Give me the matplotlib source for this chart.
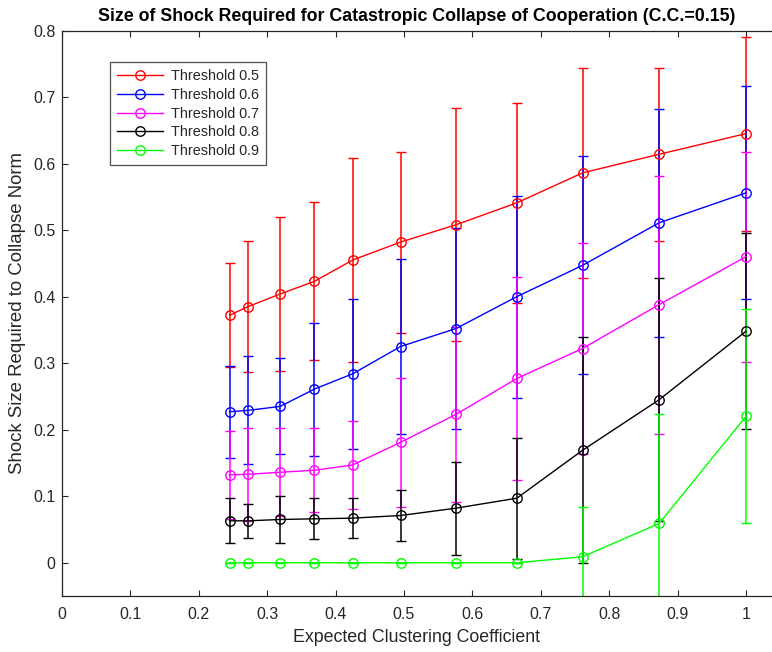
import matplotlib
matplotlib.use("Agg")
import matplotlib.pyplot as plt

# expected clustering coefficient (x positions shared by all series)
clustering = [0.245, 0.272, 0.319, 0.369, 0.425, 0.495, 0.576, 0.665, 0.761, 0.873, 1.0]

thresholds = ["0.5", "0.6", "0.7", "0.8", "0.9"]

shock_05 = [0.372, 0.385, 0.404, 0.423, 0.455, 0.482, 0.508, 0.541, 0.586, 0.614, 0.645]
shock_06 = [0.227, 0.229, 0.235, 0.261, 0.284, 0.325, 0.352, 0.400, 0.447, 0.511, 0.556]
shock_07 = [0.132, 0.133, 0.136, 0.139, 0.147, 0.181, 0.223, 0.277, 0.322, 0.388, 0.460]
shock_08 = [0.063, 0.063, 0.065, 0.066, 0.067, 0.071, 0.082, 0.097, 0.169, 0.245, 0.348]
shock_09 = [0.0, 0.0, 0.0, 0.0, 0.0, 0.0, 0.0, 0.0, 0.009, 0.059, 0.220]

err_05 = [0.078, 0.098, 0.116, 0.119, 0.153, 0.136, 0.175, 0.150, 0.158, 0.130, 0.146]
err_06 = [0.069, 0.081, 0.072, 0.100, 0.113, 0.131, 0.151, 0.152, 0.164, 0.171, 0.160]
err_07 = [0.066, 0.070, 0.066, 0.063, 0.066, 0.097, 0.132, 0.152, 0.159, 0.194, 0.158]
err_08 = [0.034, 0.026, 0.035, 0.031, 0.030, 0.039, 0.070, 0.091, 0.170, 0.183, 0.147]
err_09 = [0.0, 0.0, 0.0, 0.0, 0.0, 0.0, 0.0, 0.0, 0.075, 0.164, 0.161]

colors = ["#ff0000", "#0000ff", "#ff00ff", "#000000", "#00ff00"]
x_ticks = [0, 0.1, 0.2, 0.3, 0.4, 0.5, 0.6, 0.7, 0.8, 0.9, 1.0]
x_ticklabels = ["0", "0.1", "0.2", "0.3", "0.4", "0.5", "0.6", "0.7", "0.8", "0.9", "1"]
y_ticks = [0, 0.1, 0.2, 0.3, 0.4, 0.5, 0.6, 0.7, 0.8]
y_ticklabels = ["0", "0.1", "0.2", "0.3", "0.4", "0.5", "0.6", "0.7", "0.8"]

plt.rcParams["font.family"] = ["Liberation Sans", "DejaVu Sans"]
text_gray = "#262626"

fig = plt.figure(figsize=(7.72, 6.52), dpi=100)
ax = fig.add_axes([0.0803, 0.0859, 0.9197, 0.8673])

series = [shock_05, shock_06, shock_07, shock_08, shock_09]
errors = [err_05, err_06, err_07, err_08, err_09]
for values, err, color, th in zip(series, errors, colors, thresholds):
    ax.errorbar(clustering, values, yerr=err, color=color, linewidth=1.0,
                elinewidth=1.1, capsize=3.8, capthick=1.0,
                marker="o", markersize=6.8, markerfacecolor="none",
                markeredgecolor=color, markeredgewidth=1.0,
                label=f"Threshold {th}")

ax.set_xlim(0, 1.038)
ax.set_ylim(-0.05, 0.8)
ax.set_xticks(x_ticks)
ax.set_xticklabels(x_ticklabels)
ax.set_yticks(y_ticks)
ax.set_yticklabels(y_ticklabels)
ax.tick_params(direction="in", length=4.5, width=0.8, top=True, right=False,
               labelsize=11.5, colors=text_gray)
ax.tick_params(axis="x", pad=8)
ax.tick_params(axis="y", pad=4.5)
for side in ["left", "bottom", "top"]:
    ax.spines[side].set_color(text_gray)
    ax.spines[side].set_linewidth(0.9)
ax.spines["right"].set_visible(False)

ax.set_title("Size of Shock Required for Catastropic Collapse of Cooperation (C.C.=0.15)",
             fontsize=12.8, fontweight="bold", pad=7)
ax.set_xlabel("Expected Clustering Coefficient", fontsize=12.8, color=text_gray, labelpad=5)
ax.set_ylabel("Shock Size Required to Collapse Norm", fontsize=13.4, color=text_gray, labelpad=5)

# legend handles without the error bar parts
handles, labels = ax.get_legend_handles_labels()
handles = [h[0] for h in handles]
leg = ax.legend(handles, labels, loc="upper left", bbox_to_anchor=(0.0676, 0.944),
                borderaxespad=0, fancybox=False, fontsize=10.4, handlelength=3.2,
                handletextpad=0.5, labelspacing=0.32, borderpad=0.5)
leg.get_frame().set_edgecolor(text_gray)
leg.get_frame().set_linewidth(0.9)
for t in leg.get_texts():
    t.set_color(text_gray)

fig.savefig("out.png", dpi=100)
